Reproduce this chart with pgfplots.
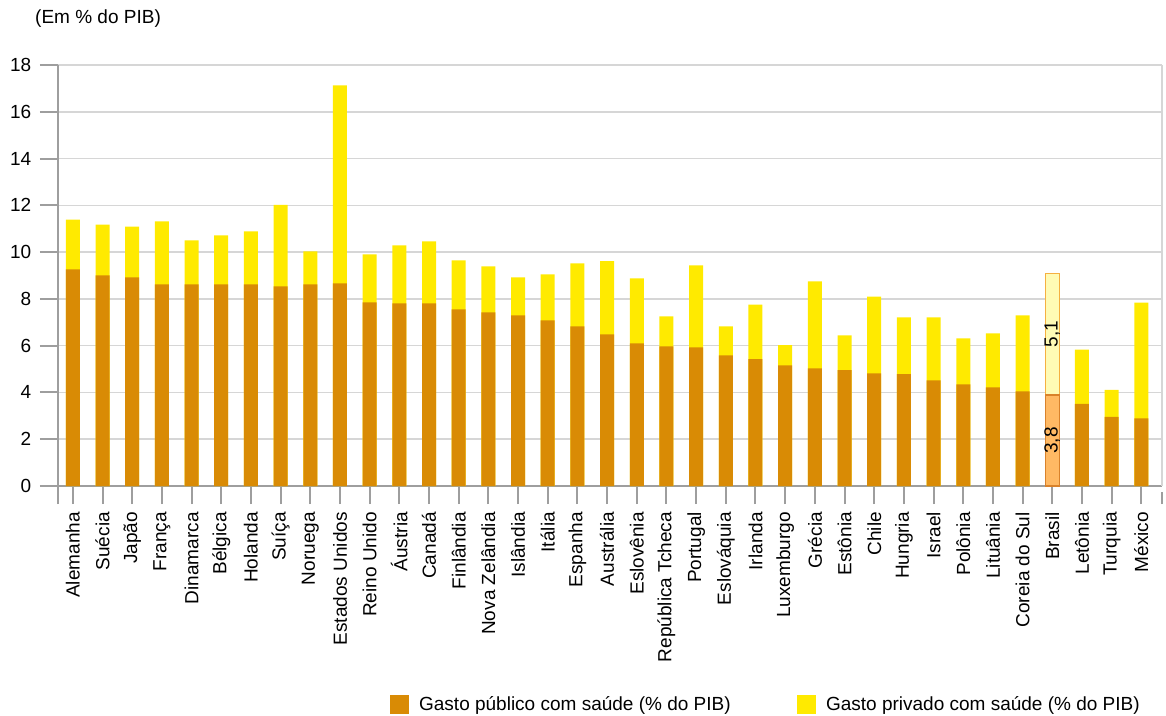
\documentclass[border=0pt]{standalone}
\usepackage{pgfplots}
\pgfplotsset{compat=1.18}
\usepackage{pgfplotstable}
\usepackage{fontspec}
\setmainfont{Liberation Sans}
\definecolor{pub}{HTML}{D98B05}
\definecolor{priv}{HTML}{FFEA00}
\definecolor{bpub}{HTML}{FFB964}
\definecolor{bpubd}{HTML}{D9822B}
\definecolor{bpriv}{HTML}{FFFBB5}
\definecolor{bprivd}{HTML}{F5B041}
\definecolor{gridc}{HTML}{D6D6D6}
\definecolor{axc}{HTML}{9E9E9E}
\newcommand\ff{\fontsize{19bp}{22bp}\selectfont}
\pgfplotstableread{
x pub priv
0 9.26 2.13
1 9.00 2.18
2 8.92 2.17
3 8.62 2.69
4 8.62 1.88
5 8.62 2.10
6 8.62 2.27
7 8.54 3.48
8 8.62 1.41
9 8.66 8.47
10 7.85 2.05
11 7.81 2.48
12 7.81 2.65
13 7.55 2.10
14 7.42 1.97
15 7.29 1.63
16 7.08 1.97
17 6.83 2.69
18 6.48 3.13
19 6.10 2.78
20 5.97 1.28
21 5.93 3.50
22 5.59 1.24
23 5.42 2.34
24 5.16 0.86
25 5.03 3.72
26 4.95 1.49
27 4.82 3.28
28 4.78 2.43
29 4.52 2.69
30 4.35 1.96
31 4.22 2.31
32 4.05 3.24
34 3.51 2.32
35 2.96 1.15
36 2.89 4.95
}\data
\pgfplotstableread{
x pub priv
33 3.90 5.18
}\brasil
\begin{document}
\begin{tikzpicture}
\useasboundingbox (0,0) rectangle (1166bp,716bp);
\node[anchor=west,inner sep=0pt,font=\ff] at (35bp,697bp) {(Em \% do PIB)};
\begin{axis}[
  at={(58bp,230bp)}, anchor=south west,
  scale only axis, width=1104bp, height=421bp,
  ybar, bar width=14bp,
  xmin=-0.5, xmax=36.7, ymin=0, ymax=18,
  ytick={0,2,...,18},
  xtick={-0.5,0,1,...,36,36.7},
  xticklabels={,Alemanha,Suécia,Japão,França,Dinamarca,Bélgica,Holanda,Suíça,Noruega,Estados Unidos,Reino Unido,Áustria,Canadá,Finlândia,Nova Zelândia,Islândia,Itália,Espanha,Austrália,Eslovênia,República Tcheca,Portugal,Eslováquia,Irlanda,Luxemburgo,Grécia,Estônia,Chile,Hungria,Israel,Polônia,Lituânia,Coreia do Sul,Brasil,Letônia,Turquia,México,},
  axis x line*=bottom, axis y line*=left,
  axis line style={draw=axc, line width=2bp},
  tick align=outside, major tick length=18bp,
  tick style={draw=axc, line width=2bp},
  xtick style={shorten >=6bp},
  ymajorgrids, grid style={draw=gridc, line width=1.5bp},
  /pgf/number format/assume math mode=true,
  yticklabel style={font=\ff, text=black, inner sep=8.5bp},
  xticklabel style={font=\ff, text=black, rotate=90, anchor=east, inner sep=0pt, xshift=-8bp},
  legend style={draw=none, fill=none, font=\ff, at={(0.641,-0.518)}, anchor=center, legend columns=2,
    /tikz/every odd column/.append style={column sep=9bp},
    /tikz/every even column/.append style={column sep=64bp}},
  legend cell align=left,
  legend image code/.code={\fill[#1] (0bp,-9bp) rectangle (18bp,9bp);},
  clip=false,
]
\draw[gridc, line width=1.5bp] (rel axis cs:1,0) -- (rel axis cs:1,1);
\addlegendimage{pub}
\addlegendentry{Gasto público com saúde (\% do PIB)}
\addlegendimage{priv}
\addlegendentry{Gasto privado com saúde (\% do PIB)}
\addplot[fill=priv, draw=none, forget plot, /pgf/bar shift=0pt] table[x=x, y expr=\thisrow{pub}+\thisrow{priv}] {\data};
\addplot[fill=pub, draw=none, forget plot, /pgf/bar shift=0pt] table[x=x, y=pub] {\data};
\addplot[fill=bpriv, draw=bprivd, line width=1.5bp, forget plot, /pgf/bar shift=0pt] table[x=x, y expr=\thisrow{pub}+\thisrow{priv}] {\brasil};
\addplot[fill=bpub, draw=bpubd, line width=1.5bp, forget plot, /pgf/bar shift=0pt] table[x=x, y=pub] {\brasil};
\node[rotate=90, font=\ff, inner sep=0pt] at (axis cs:33,1.95) {3,8};
\node[rotate=90, font=\ff, inner sep=0pt] at (axis cs:33,6.5) {5,1};
\end{axis}
\end{tikzpicture}
\end{document}
